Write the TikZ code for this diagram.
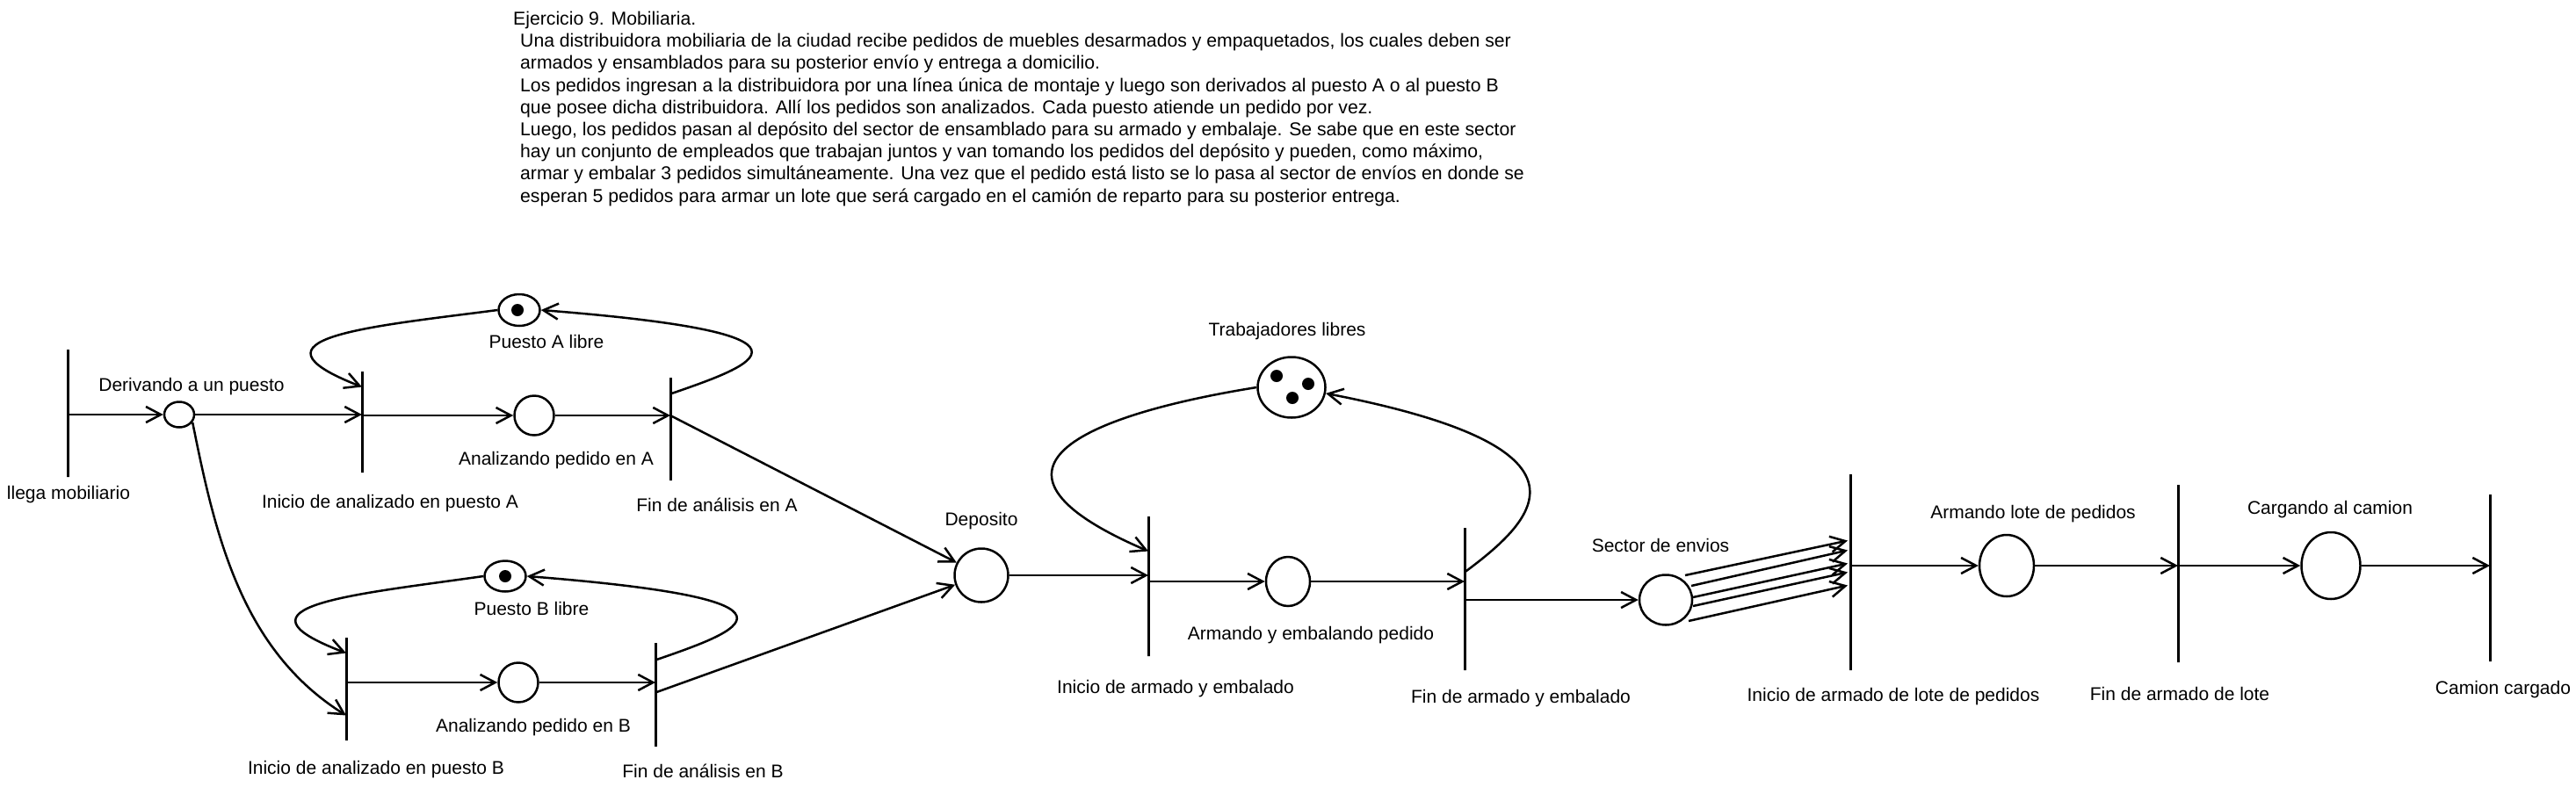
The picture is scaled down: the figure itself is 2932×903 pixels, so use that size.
\documentclass[tikz,border=0pt]{standalone}
\usepackage{fontspec}
\setmainfont{Liberation Sans}
\usetikzlibrary{arrows.meta,shapes.geometric,calc}
\begin{document}
\begin{tikzpicture}[x=1pt,y=-1pt,
  place/.style={draw, ellipse, line width=2.5pt, inner sep=0pt},
  trans/.style={draw, line width=3pt, inner sep=0pt, minimum width=0pt, minimum height=#1},
  lbl/.style={font=\fontsize{21}{25}\selectfont, inner sep=0pt, text height=15pt, text depth=4.4pt},
  arr/.style={line width=2.5pt, -{Straight Barb[length=17pt,width=18pt]}},
  tok/.style={fill=black}
]
\fill[white] (0,0) rectangle (2932,903);
\useasboundingbox (0,0) rectangle (2932,903);

% statement
\node[anchor=north west, inner sep=0pt, align=left, font=\fontsize{21.2}{25.2}\selectfont] (enun) at (584,13) {%
Ejercicio 9. Mobiliaria.\\
\hspace*{8pt}Una distribuidora mobiliaria de la ciudad recibe pedidos de muebles desarmados y empaquetados, los cuales deben ser\\
\hspace*{8pt}armados y ensamblados para su posterior envío y entrega a domicilio.\\
\hspace*{8pt}Los pedidos ingresan a la distribuidora por una línea única de montaje y luego son derivados al puesto A o al puesto B\\
\hspace*{8pt}que posee dicha distribuidora. Allí los pedidos son analizados. Cada puesto atiende un pedido por vez.\\
\hspace*{8pt}Luego, los pedidos pasan al depósito del sector de ensamblado para su armado y embalaje. Se sabe que en este sector\\
\hspace*{8pt}hay un conjunto de empleados que trabajan juntos y van tomando los pedidos del depósito y pueden, como máximo,\\
\hspace*{8pt}armar y embalar 3 pedidos simultáneamente. Una vez que el pedido está listo se lo pasa al sector de envíos en donde se\\
\hspace*{8pt}esperan 5 pedidos para armar un lote que será cargado en el camión de reparto para su posterior entrega.};

% transitions
\node[trans=145] (t0) at (77,470.5) {};
\node[trans=115] (t1) at (412,480.5) {};
\node[trans=117] (t2) at (763,488.5) {};
\node[trans=117] (t3) at (394,784.5) {};
\node[trans=118] (t4) at (746,791) {};
\node[trans=159] (t5) at (1307,667.5) {};
\node[trans=162] (t6) at (1667,682) {};
\node[trans=223] (t7) at (2106,651.5) {};
\node[trans=202] (t8) at (2479,653) {};
\node[trans=190] (t9) at (2834,658) {};

% places
\node[place, minimum width=34, minimum height=29] (p0) at (204,472) {};
\node[place, minimum width=47, minimum height=36] (pA) at (591,353) {};
\node[place, minimum width=45, minimum height=45] (p1) at (608,473) {};
\node[place, minimum width=47, minimum height=35] (pB) at (575,656) {};
\node[place, minimum width=45, minimum height=45] (p3) at (590,777) {};
\node[place, minimum width=61, minimum height=61] (dep) at (1117,655) {};
\node[place, minimum width=77, minimum height=69] (pT) at (1470,441) {};
\node[place, minimum width=50, minimum height=56] (p5) at (1466,662) {};
\node[place, minimum width=60, minimum height=57] (pS) at (1896,683) {};
\node[place, minimum width=62, minimum height=70] (pL) at (2284,644) {};
\node[place, minimum width=67, minimum height=76] (pC) at (2653,644) {};

% tokens
\fill[tok] ($(pA)+(-2,0)$) circle[radius=7pt];
\fill[tok] (pB) circle[radius=7pt];
\fill[tok] ($(pT)+(-17,-13)$) circle[radius=7pt];
\fill[tok] ($(pT)+(19,-4)$) circle[radius=7pt];
\fill[tok] ($(pT)+(1,12)$) circle[radius=7pt];

% labels
\node[lbl] (l0) at (78,563) {llega mobiliario};
\node[lbl] (lp0) at (218,440) {Derivando a un puesto};
\node[lbl] (l1) at (444,573) {Inicio de analizado en puesto A};
\node[lbl] (lp1) at (633,524) {Analizando pedido en A};
\node[lbl] (l2) at (816,577) {Fin de análisis en A};
\node[lbl] (lpA) at (622,391) {Puesto A libre};
\node[lbl] (l3) at (428,876) {Inicio de analizado en puesto B};
\node[lbl] (lp3) at (607,828) {Analizando pedido en B};
\node[lbl] (l4) at (800,880) {Fin de análisis en B};
\node[lbl] (lpB) at (605,695) {Puesto B libre};
\node[lbl] (ldep) at (1117,593) {Deposito};
\node[lbl] (lpT) at (1465,377) {Trabajadores libres};
\node[lbl] (l5) at (1338,784) {Inicio de armado y embalado};
\node[lbl] (lp5) at (1492,723) {Armando y embalando pedido};
\node[lbl] (l6) at (1731,795) {Fin de armado y embalado};
\node[lbl] (lpS) at (1890,623) {Sector de envios};
\node[lbl] (l7) at (2155,793) {Inicio de armado de lote de pedidos};
\node[lbl] (lpL) at (2314,585) {Armando lote de pedidos};
\node[lbl] (l8) at (2481,792) {Fin de armado de lote};
\node[lbl] (lpC) at (2652,580) {Cargando al camion};
\node[lbl] (l9) at (2849,785) {Camion cargado};

% main flow
\draw[arr] (t0 |- p0) -- (p0);
\draw[arr] (p0) -- (p0 -| t1);
\draw[arr] (t1 |- p1) -- (p1);
\draw[arr] (p1) -- (p1 -| t2);
\draw[arr] (p0.-30) .. controls (245,610) and (275,740) .. ($(t3.south)+(0,-30)$);
\draw[arr] (t3 |- p3) -- (p3);
\draw[arr] (p3) -- (p3 -| t4);
\draw[arr] (p1 -| t2) -- (dep);
\draw[arr] ($(t4.north)+(0,58)$) -- (dep);
\draw[arr] (dep) -- (dep -| t5);
\draw[arr] (t5 |- p5) -- (p5);
\draw[arr] (p5) -- (p5 -| t6);
\draw[arr] (t6 |- pS) -- (pS);
\draw[arr] ($(pS)+(22,-28)$) -- ($(t7.north)+(-3,77)$);
\draw[arr] ($(pS)+(29,-16)$) -- ($(t7.north)+(-3,88)$);
\draw[arr] ($(pS)+(31,-3)$) -- ($(t7.north)+(-3,103)$);
\draw[arr] ($(pS)+(31,7)$) -- ($(t7.north)+(-3,113)$);
\draw[arr] ($(pS)+(26,24)$) -- ($(t7.north)+(-3,128)$);
\draw[arr] (t7 |- pL) -- (pL);
\draw[arr] (pL) -- (pL -| t8);
\draw[arr] (pL -| t8) -- (pC);
\draw[arr] (pC) -- (pC -| t9);

% resource loops
\draw[arr] (pA.west) .. controls (420,372) and (270,385) .. ($(t1.north)+(0,19)$);
\draw[arr] ($(t2.north)+(0,20)$) .. controls (860,415) and (960,380) .. (pA.east);
\draw[arr] (pB.west) .. controls (403,677) and (253,690) .. ($(t3.north)+(0,19)$);
\draw[arr] ($(t4.north)+(0,21)$) .. controls (843,718) and (943,683) .. (pB.east);
\draw[arr] (pT.west) .. controls (1250,470) and (1080,530) .. ($(t5.north)+(0,41)$);
\draw[arr] ($(t6.north)+(0,52)$) .. controls (1750,590) and (1830,510) .. (pT.-10);
\end{tikzpicture}
\end{document}
